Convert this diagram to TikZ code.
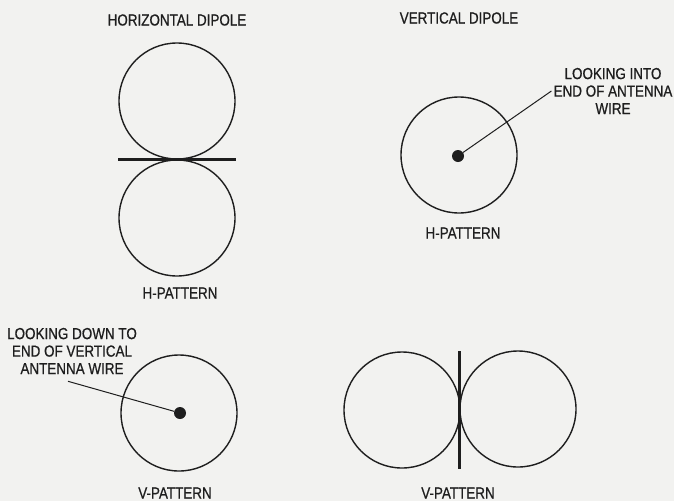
\documentclass[tikz,border=0pt]{standalone}
\usepackage{fontspec}
\setmainfont{Liberation Sans}[FakeStretch=0.84, FakeBold=0.7]
\definecolor{paper}{RGB}{242,242,240}
\definecolor{ink}{RGB}{30,30,30}
\begin{document}
\begin{tikzpicture}[x=1pt, y=-1pt, font=\fontsize{16}{17.5}\selectfont]
    \tikzstyle{lobe}=[draw=ink, line width=1.4pt, circle, minimum size=116pt, inner sep=0pt]
    \tikzstyle{wire}=[draw=ink, line width=2.6pt]
    \tikzstyle{wireend}=[fill=ink, circle, minimum size=12pt, inner sep=0pt]
    \tikzstyle{caption}=[text=ink, align=center, inner sep=2pt]
    \tikzstyle{pointer}=[draw=ink, line width=1pt]

    \fill[paper] (0,0) rectangle (674,501);
    \useasboundingbox (0,0) rectangle (674,501);

    % horizontal dipole, H-pattern
    \node[caption] (hdtitle) at (177,20) {HORIZONTAL DIPOLE};
    \node[lobe] (hup) at (177,101) {};
    \node[lobe] (hlo) at (177,218) {};
    \draw[wire] (hup.west |- hlo.north) -- (hup.east |- hlo.north);
    \node[caption] (hhpat) at (180,293) {H-PATTERN};

    % vertical dipole, H-pattern
    \node[caption] (vdtitle) at (459,18) {VERTICAL DIPOLE};
    \node[lobe] (vring) at (459,155) {};
    \node[wireend] (vdot) at (458,156) {};
    \node[caption] (lookin) at (613,91) {LOOKING INTO\\END OF ANTENNA\\WIRE};
    \draw[pointer] (lookin.west) -- (vdot);
    \node[caption] (vhpat) at (463,233) {H-PATTERN};

    % horizontal dipole, V-pattern
    \node[caption] (lookdown) at (72,351) {LOOKING DOWN TO\\END OF VERTICAL\\ANTENNA WIRE};
    \node[lobe] (hring) at (179,413) {};
    \node[wireend] (hdot) at (180,413) {};
    \draw[pointer] ([xshift=-4pt,yshift=-5pt]lookdown.south) -- (hdot);
    \node[caption] (hvpat) at (175,493) {V-PATTERN};

    % vertical dipole, V-pattern
    \node[lobe] (vl) at (402,410) {};
    \node[lobe] (vr) at (518,409) {};
    \draw[wire] (vl.north -| vr.west) -- (vl.south -| vr.west);
    \node[caption] (vvpat) at (458,493) {V-PATTERN};
\end{tikzpicture}
\end{document}
